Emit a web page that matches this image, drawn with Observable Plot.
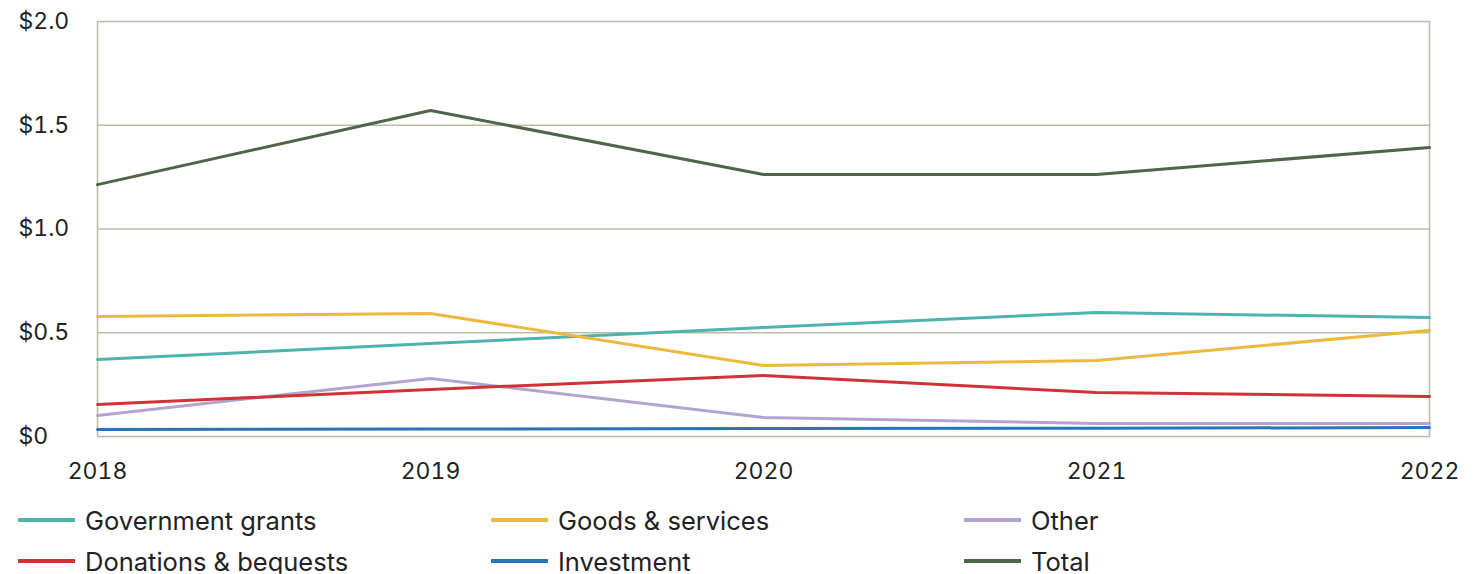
<!DOCTYPE html>
<html><head><meta charset="utf-8">
<script src="https://cdn.jsdelivr.net/npm/d3@7"></script>
<script src="https://cdn.jsdelivr.net/npm/@observablehq/plot@0.6"></script>
<style>
body{margin:0;background:#fff;font-family:Inter,"Noto Sans",sans-serif;}
#legend{display:grid;grid-template-columns:473px 473px 473px;padding-left:18px;margin-top:17px;row-gap:15px;}
.item{display:flex;align-items:center;font-size:25.5px;color:#222;height:26px;}
.sw{width:57px;height:4px;margin-right:10px;}
</style></head>
<body><div id="chart"></div><div id="legend"></div>
<script>
const years = [2018, 2019, 2020, 2021, 2022];
const seriesNames = ["Government grants","Goods & services","Other","Donations & bequests","Investment","Total"];
const colors = ["#4db3ac","#ecb83f","#b3a4cf","#d03236","#2874b8","#4e6547"];
const governmentGrants = [0.371, 0.448, 0.525, 0.598, 0.573];
const goodsServices = [0.578, 0.593, 0.342, 0.366, 0.511];
const other = [0.101, 0.280, 0.092, 0.063, 0.063];
const donations = [0.154, 0.227, 0.294, 0.212, 0.193];
const investment = [0.034, 0.036, 0.039, 0.040, 0.043];
const total = [1.214, 1.571, 1.263, 1.263, 1.393];
const yTicks = [0, 0.5, 1.0, 1.5, 2.0];
const yTickLabels = ["$0","$0.5","$1.0","$1.5","$2.0"];

const valueArrays = [governmentGrants, goodsServices, other, donations, investment, total];
const data = [];
seriesNames.forEach((s, i) => years.forEach((y, j) => data.push({series: s, year: y, value: valueArrays[i][j]})));

const plot = Plot.plot({
  width: 1475, height: 490,
  marginLeft: 97, marginRight: 46, marginTop: 21, marginBottom: 54,
  style: {fontFamily: "Inter, 'Noto Sans', sans-serif", fontSize: "23px", color: "#222", background: "#fff"},
  x: {domain: [2018, 2022]},
  y: {domain: [0, 2]},
  color: {domain: seriesNames, range: colors},
  marks: [
    Plot.ruleY([0.5, 1.0, 1.5], {stroke: "#bdbba7", strokeWidth: 1.5, strokeOpacity: 1}),
    Plot.frame({stroke: "#bdbba7", strokeWidth: 1.5, strokeOpacity: 1}),
    Plot.axisY({ticks: yTicks, tickFormat: (d) => yTickLabels[yTicks.indexOf(d)], tickSize: 0, tickPadding: 79, textAnchor: "start", fontSize: 23, label: null}),
    Plot.axisX({ticks: years, tickFormat: d => String(d), tickSize: 0, tickPadding: 26, fontSize: 23, label: null}),
    Plot.line(data, {x: "year", y: "value", z: "series", stroke: "series", strokeWidth: 3, curve: "linear"})
  ]
});
document.getElementById("chart").appendChild(plot);

const legend = document.getElementById("legend");
seriesNames.forEach((s, i) => {
  const it = document.createElement("div"); it.className = "item";
  const sw = document.createElement("span"); sw.className = "sw"; sw.style.background = colors[i];
  const t = document.createElement("span"); t.textContent = s;
  it.appendChild(sw); it.appendChild(t); legend.appendChild(it);
});
</script></body></html>
